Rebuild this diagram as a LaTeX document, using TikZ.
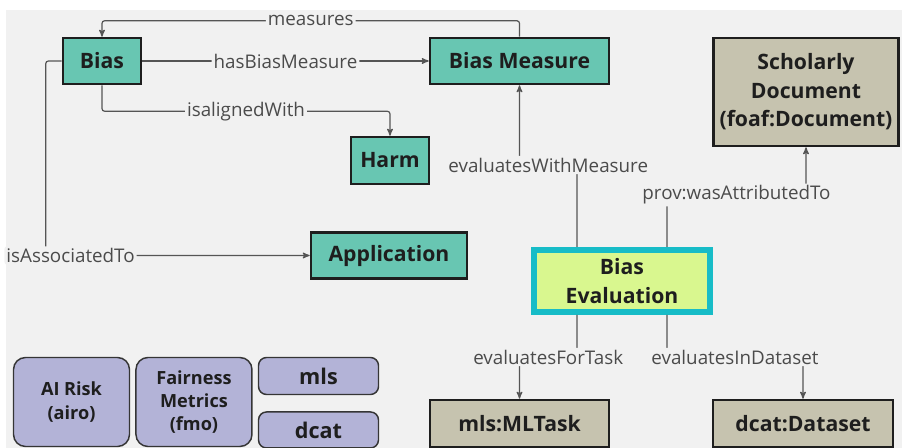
\documentclass[tikz,border=0pt]{standalone}
\usepackage{fontspec}
\setmainfont{Open Sans}
\usepackage{tikz}
\usetikzlibrary{
  arrows,
  positioning
}

\definecolor{canvas}{HTML}{F1F1F1}
\definecolor{tealbox}{HTML}{68C6B2}
\definecolor{sandbox}{HTML}{C6C3AF}
\definecolor{lilac}{HTML}{B3B3D7}
\definecolor{lime}{HTML}{D9F78F}
\definecolor{cyanrim}{HTML}{17BCC7}
\definecolor{wire}{HTML}{555555}
\definecolor{ink}{HTML}{1E1E1E}

\newcommand{\pxu}{0.75pt}

\begin{document}
\begin{tikzpicture}[
      x=0.75pt, y=-0.75pt,
      class/.style={
         rectangle,
         line width=1.9pt,
         draw=ink,
         fill=tealbox,
         text=ink,
         inner sep=0pt,
         font=\fontsize{15.9}{21.4}\selectfont\bfseries
      },
      outer class/.style={
         class,
         fill=sandbox,
         align=center
      },
      focus/.style={
         rectangle,
         line width=4.5pt,
         draw=cyanrim,
         fill=lime,
         text=ink,
         align=center,
         inner sep=0pt,
         font=\fontsize{15.9}{21.4}\selectfont\bfseries
      },
      vocab/.style={
         rectangle,
         rounded corners=9pt,
         line width=1.1pt,
         draw=ink!90,
         fill=lilac,
         text=ink,
         align=center,
         inner sep=0pt,
         minimum width=116*\pxu,
         minimum height=89*\pxu,
         font=\fontsize{13.6}{17.5}\selectfont\bfseries
      },
      small vocab/.style={
         vocab,
         rounded corners=6pt,
         minimum width=120*\pxu,
         font=\fontsize{16.2}{18}\selectfont\bfseries
      },
      prop/.style={
         fill=canvas,
         text=ink!80,
         inner sep=1.5pt,
         font=\fontsize{14.1}{16}\selectfont
      },
      link/.style={draw=wire,line width=0.9pt,rounded corners=2pt},
      tip/.style={link,->},
      >=stealth'
    ]
    \useasboundingbox (0,0) rectangle (902,448);
    \fill[canvas] (6,10) rectangle (902,448);

    % classes
    \node (bias) [class, minimum width=78*\pxu, minimum height=46*\pxu] at (102,61) {Bias};
    \node (measure) [class, minimum width=179*\pxu, minimum height=46*\pxu] at (519.5,61) {Bias Measure};
    \node (harm) [class, minimum width=78*\pxu, minimum height=47*\pxu] at (390,160.5) {Harm};
    \node (app) [class, minimum width=156*\pxu, minimum height=46*\pxu] at (389,255.5) {Application};
    \node (eval) [focus, minimum width=176*\pxu, minimum height=62*\pxu] at (622,281) {Bias\\Evaluation};
    \node (doc) [outer class, minimum width=185*\pxu, minimum height=108*\pxu] at (806,92) {Scholarly\\Document\\(foaf:Document)};
    \node (task) [outer class, minimum width=179*\pxu, minimum height=47*\pxu] at (519.5,423.5) {mls:MLTask};
    \node (data) [outer class, minimum width=180*\pxu, minimum height=47*\pxu] at (803,423.5) {dcat:Dataset};

    % vocabularies
    \node (airo) [vocab] at (71.5,402) {AI Risk\\(airo)};
    \node (fmo) [vocab, right=5*\pxu of airo] {Fairness\\Metrics\\(fmo)};
    \node (mls) [small vocab, minimum height=37*\pxu] at (318.5,376) {mls};
    \node (dcat) [small vocab, minimum height=36*\pxu, below=16*\pxu of mls] {dcat};

    % properties
    \draw[tip] (bias.east) -- node[prop] {hasBiasMeasure} (measure.west);
    \draw[tip] (measure.north) -- ++(0,-16) -| node[prop,pos=0.25] {measures} (bias.north);
    \draw[tip] (bias.south) -- ++(0,26) -| node[prop,pos=0.25] {isalignedWith} (harm.north);
    \draw[tip] (bias.west) -- ++(-16,0) |- node[prop,pos=0.547] {isAssociatedTo} (app.west);
    \draw[tip] ([xshift=-45*\pxu]eval.north) -- ++(0,-82) -| node[prop,pos=0.25] {evaluatesWithMeasure} (measure.south);
    \draw[tip] ([xshift=45*\pxu]eval.north) -- ++(0,-52) -| node[prop,pos=0.25] {prov:wasAttributedTo} (doc.south);
    \draw[tip] ([xshift=-45*\pxu]eval.south) -- ++(0,42) -| node[prop,pos=0.25] {evaluatesForTask} (task.north);
    \draw[tip] ([xshift=45*\pxu]eval.south) -- ++(0,42) -| node[prop,pos=0.25] {evaluatesInDataset} (data.north);
\end{tikzpicture}
\end{document}
